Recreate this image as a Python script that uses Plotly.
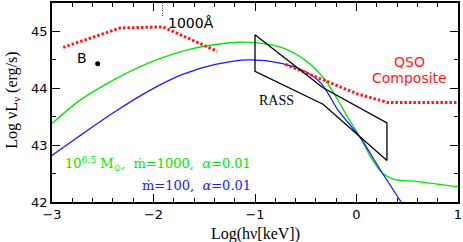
import plotly.graph_objects as go

# Green model: 10^6.5 Msun, mdot=1000, alpha=0.01
green_x = [-3.0, -2.74, -2.37, -2.04, -1.72, -1.39, -1.15, -0.97, -0.74, -0.51, -0.31, -0.15, -0.084, 0.046, 0.14, 0.26, 0.37, 0.60, 1.0]
green_y = [43.38, 43.77, 44.17, 44.45, 44.65, 44.77, 44.81, 44.80, 44.72, 44.50, 44.15, 43.69, 43.48, 43.11, 42.79, 42.50, 42.40, 42.36, 42.27]

# Blue model: mdot=100, alpha=0.01
blue_x = [-3.0, -2.69, -2.37, -2.04, -1.72, -1.39, -1.06, -0.74, -0.51, -0.35, -0.18, -0.084, 0.046, 0.24, 0.44]
blue_y = [42.82, 43.21, 43.60, 43.96, 44.24, 44.42, 44.50, 44.44, 44.30, 44.09, 43.61, 43.40, 43.11, 42.55, 42.0]

# QSO composite (two dotted pieces)
qso1_x = [-2.89, -2.33, -1.91, -1.37]
qso1_y = [44.72, 45.06, 45.08, 44.65]
qso2_x = [-0.70, -0.31, 0.01, 0.31, 1.0]
qso2_y = [44.42, 44.13, 43.90, 43.75, 43.75]

# RASS bow-tie
rass_x = [-1.0, -0.33, 0.30, 0.30, -0.33, -1.0, -1.0]
rass_y = [44.94, 44.01, 43.39, 42.73, 43.72, 44.30, 44.94]

# Object B
b_x = [-2.55]
b_y = [44.43]

# 1000 A marker
marker_x = [-1.91, -1.91]
marker_y = [45.27, 45.5]

x_ticks = [-3, -2, -1, 0, 1]
y_ticks = [42, 43, 44, 45]

GREEN = "#00e600"
BLUE = "#1a1aff"
RED = "#ff1a1a"
SANS = "DejaVu Sans"
SERIF = "DejaVu Serif"
LSERIF = "Liberation Serif"
NB = "\u00a0"

fig = go.Figure()
fig.add_trace(go.Scatter(x=green_x, y=green_y, mode="lines", line=dict(color=GREEN, width=1.3, shape="spline", smoothing=0.8)))
fig.add_trace(go.Scatter(x=blue_x, y=blue_y, mode="lines", line=dict(color=BLUE, width=1.3, shape="spline", smoothing=0.8)))
fig.add_trace(go.Scatter(x=qso1_x, y=qso1_y, mode="lines", line=dict(color=RED, width=3, dash="2.5px,2px")))
fig.add_trace(go.Scatter(x=qso2_x, y=qso2_y, mode="lines", line=dict(color=RED, width=3, dash="2.5px,2px")))
fig.add_trace(go.Scatter(x=rass_x, y=rass_y, mode="lines", line=dict(color="black", width=1.3)))
fig.add_trace(go.Scatter(x=b_x, y=b_y, mode="markers", marker=dict(color="black", size=5)))
fig.add_trace(go.Scatter(x=marker_x, y=marker_y, mode="lines", line=dict(color="black", width=1, dash="1px,1.5px")))

ann = [
    dict(x=-1.015, y=42.67, text="10<sup>6.5</sup>" + NB + "M<sub>⊙</sub>," + NB + NB + "ṁ=1000," + NB + NB + "<i>α</i>=0.01", xanchor="right", font=dict(color=GREEN, size=13, family=SERIF)),
    dict(x=-1.015, y=42.29, text="ṁ=100," + NB + NB + "<i>α</i>=0.01", xanchor="right", font=dict(color=BLUE, size=13, family=SERIF)),
    dict(x=-2.70, y=44.53, text="B", xanchor="center", font=dict(color="black", size=14, family=SANS)),
    dict(x=-1.875, y=45.14, text="1000Å", xanchor="left", font=dict(color="black", size=14, family=SANS)),
    dict(x=0.52, y=44.47, text="QSO", xanchor="center", font=dict(color=RED, size=14, family=SANS)),
    dict(x=0.52, y=44.18, text="Composite", xanchor="center", font=dict(color=RED, size=14, family=SANS)),
    dict(x=-0.79, y=43.79, text="RASS", xanchor="center", font=dict(color="black", size=14, family=LSERIF)),
]
for a in ann:
    a.update(xref="x", yref="y", showarrow=False, yanchor="middle")

ann.append(dict(xref="paper", yref="paper", x=0.5, y=-0.16, text="Log(hν[keV])", showarrow=False,
                xanchor="center", yanchor="middle", font=dict(family=LSERIF, size=16, color="black")))
ann.append(dict(xref="paper", yref="paper", x=-0.098, y=0.51, text="Log" + NB + "νL<sub>ν</sub>" + NB + "(erg/s)", showarrow=False,
                textangle=-90, xanchor="center", yanchor="middle", font=dict(family=LSERIF, size=16, color="black")))

axis_common = dict(showline=True, linecolor="black", linewidth=1.5, mirror="allticks",
                   ticks="inside", ticklen=8, tickwidth=1.2, tickcolor="black",
                   showgrid=False, zeroline=False, ticklabeloverflow="allow",
                   tickfont=dict(family=SANS, size=13, color="black"))

fig.update_layout(
    width=463, height=242,
    margin=dict(l=52, r=2, t=1, b=40),
    paper_bgcolor="white", plot_bgcolor="white",
    showlegend=False,
    annotations=ann,
    xaxis=dict(range=[-3, 1], tickvals=x_ticks, ticktext=[("−" + str(-v)) if v < 0 else str(v) for v in x_ticks],
               minor=dict(dtick=0.2, ticks="inside", ticklen=4, tickwidth=1.2, tickcolor="black"),
               **axis_common),
    yaxis=dict(range=[42, 45.5], tickvals=y_ticks,
               minor=dict(dtick=0.5, ticks="inside", ticklen=4, tickwidth=1.2, tickcolor="black"),
               **axis_common),
)

fig.write_html("out.html", config={"displayModeBar": False},
               post_script="document.body.style.margin='0';document.body.style.overflow='hidden';")
